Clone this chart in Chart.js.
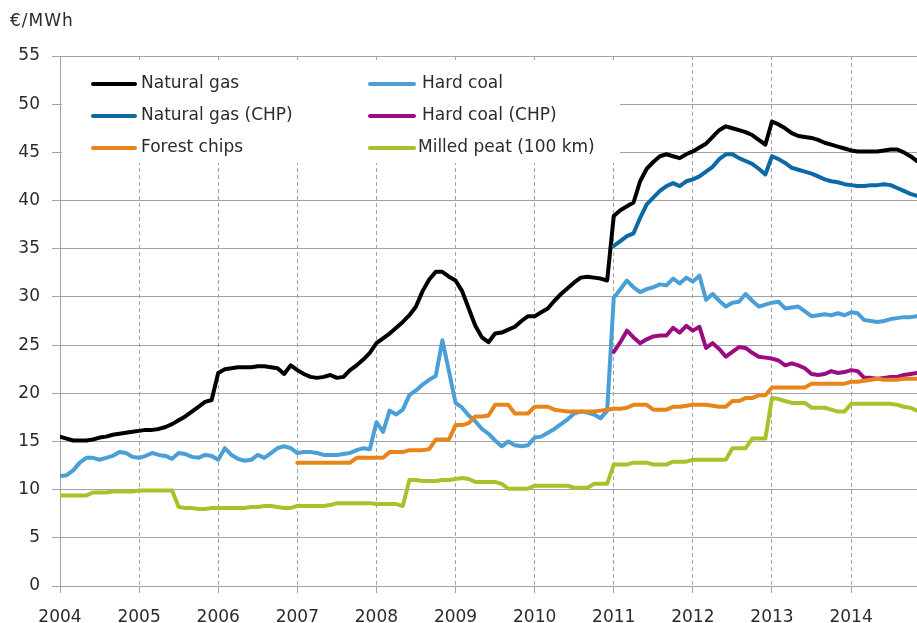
<!DOCTYPE html>
<html>
<head>
<meta charset="utf-8">
<script src="https://cdn.jsdelivr.net/npm/chart.js@4"></script>
<style>
html,body{margin:0;padding:0;background:#fff;}
canvas{display:block;}
</style>
</head>
<body>
<canvas id="c" width="917" height="623"></canvas>
<script>
// ---- Data (monthly, Jan 2004 = month index 0) ----
const yearLabels = ["2004","2005","2006","2007","2008","2009","2010","2011","2012","2013","2014"];
const unitLabel = "€/MWh";
const seriesNames = ["Natural gas","Hard coal","Natural gas (CHP)","Hard coal (CHP)","Forest chips","Milled peat (100 km)"];

const naturalGas = [
 15.5,15.3,15.1,15.1,15.1,15.2,15.4,15.5,15.7,15.8,15.9,16.0,
 16.1,16.2,16.2,16.3,16.5,16.8,17.2,17.6,18.1,18.6,19.1,19.3,
 22.1,22.5,22.6,22.7,22.7,22.7,22.8,22.8,22.7,22.6,22.0,22.9,
 22.4,22.0,21.7,21.6,21.7,21.9,21.6,21.7,22.4,22.9,23.5,24.2,
 25.2,25.7,26.2,26.8,27.4,28.1,29.0,30.6,31.8,32.6,32.6,32.1,
 31.7,30.6,28.8,27.0,25.8,25.3,26.2,26.3,26.6,26.9,27.5,28.0,
 28.0,28.4,28.8,29.6,30.3,30.9,31.5,32.0,32.1,32.0,31.9,31.7,
 38.4,39.0,39.4,39.8,42.0,43.3,44.0,44.6,44.8,44.6,44.4,44.8,
 45.1,45.5,45.9,46.6,47.3,47.7,47.5,47.3,47.1,46.8,46.3,45.8,
 48.2,47.9,47.5,47.0,46.7,46.6,46.5,46.3,46.0,45.8,45.6,45.4,
 45.2,45.1,45.1,45.1,45.1,45.2,45.3,45.3,45.0,44.6,44.1
];
const hardCoal = [
 11.4,11.5,12.0,12.8,13.3,13.3,13.1,13.3,13.5,13.9,13.8,13.4,
 13.3,13.5,13.8,13.6,13.5,13.2,13.8,13.7,13.4,13.3,13.6,13.5,
 13.1,14.3,13.6,13.2,13.0,13.1,13.6,13.3,13.8,14.3,14.5,14.3,
 13.8,13.9,13.9,13.8,13.6,13.6,13.6,13.7,13.8,14.1,14.3,14.2,
 17.0,16.0,18.2,17.8,18.3,19.8,20.3,20.9,21.4,21.8,25.5,22.3,
 19.0,18.5,17.7,17.1,16.3,15.8,15.1,14.5,15.0,14.6,14.5,14.6,
 15.4,15.5,15.9,16.3,16.8,17.3,17.9,18.1,18.0,17.8,17.4,18.2,
 29.9,30.8,31.7,31.0,30.5,30.8,31.0,31.3,31.2,31.9,31.4,32.0,
 31.6,32.2,29.7,30.3,29.6,29.0,29.4,29.5,30.3,29.6,29.0,29.2,
 29.4,29.5,28.8,28.9,29.0,28.5,28.0,28.1,28.2,28.1,28.3,28.1,
 28.4,28.3,27.6,27.5,27.4,27.5,27.7,27.8,27.9,27.9,28.0
];
const gasChpStart = 84; // Jan 2011
const naturalGasChp = [
 35.3,35.8,36.3,36.6,38.2,39.6,40.3,41.0,41.5,41.8,41.5,42.0,
 42.2,42.5,43.0,43.5,44.3,44.8,44.8,44.4,44.1,43.8,43.3,42.7,
 44.6,44.3,43.9,43.4,43.2,43.0,42.8,42.5,42.2,42.0,41.9,41.7,
 41.6,41.5,41.5,41.6,41.6,41.7,41.6,41.3,41.0,40.7,40.5
];
const coalChpStart = 84; // Jan 2011
const hardCoalChp = [
 24.3,25.3,26.5,25.8,25.2,25.6,25.9,26.0,26.0,26.8,26.3,27.0,
 26.5,26.9,24.7,25.2,24.6,23.8,24.3,24.8,24.7,24.2,23.8,23.7,
 23.6,23.4,22.9,23.1,22.9,22.6,22.0,21.9,22.0,22.3,22.1,22.2,
 22.4,22.3,21.6,21.6,21.5,21.6,21.7,21.7,21.9,22.0,22.1
];
const chipsStart = 36; // Jan 2007
const forestChips = [
 12.8,12.8,12.8,12.8,12.8,12.8,12.8,12.8,12.8,13.3,13.3,13.3,
 13.3,13.3,13.9,13.9,13.9,14.1,14.1,14.1,14.2,15.2,15.2,15.2,
 16.7,16.7,16.9,17.6,17.6,17.7,18.8,18.8,18.8,17.9,17.9,17.9,
 18.6,18.6,18.6,18.3,18.2,18.1,18.1,18.1,18.1,18.1,18.2,18.3,
 18.4,18.4,18.5,18.8,18.8,18.8,18.3,18.3,18.3,18.6,18.6,18.7,
 18.8,18.8,18.8,18.7,18.6,18.6,19.2,19.2,19.5,19.5,19.8,19.8,
 20.6,20.6,20.6,20.6,20.6,20.6,21.0,21.0,21.0,21.0,21.0,21.0,
 21.2,21.2,21.3,21.4,21.5,21.4,21.4,21.4,21.5,21.5,21.5
];
const milledPeat = [
 9.4,9.4,9.4,9.4,9.4,9.7,9.7,9.7,9.8,9.8,9.8,9.8,
 9.9,9.9,9.9,9.9,9.9,9.9,8.2,8.1,8.1,8.0,8.0,8.1,
 8.1,8.1,8.1,8.1,8.1,8.2,8.2,8.3,8.3,8.2,8.1,8.1,
 8.3,8.3,8.3,8.3,8.3,8.4,8.6,8.6,8.6,8.6,8.6,8.6,
 8.5,8.5,8.5,8.5,8.3,11.0,11.0,10.9,10.9,10.9,11.0,11.0,
 11.1,11.2,11.1,10.8,10.8,10.8,10.8,10.6,10.1,10.1,10.1,10.1,
 10.4,10.4,10.4,10.4,10.4,10.4,10.2,10.2,10.2,10.6,10.6,10.6,
 12.6,12.6,12.6,12.8,12.8,12.8,12.6,12.6,12.6,12.9,12.9,12.9,
 13.1,13.1,13.1,13.1,13.1,13.1,14.3,14.3,14.3,15.3,15.3,15.3,
 19.5,19.4,19.2,19.0,19.0,19.0,18.5,18.5,18.5,18.3,18.1,18.1,
 18.9,18.9,18.9,18.9,18.9,18.9,18.9,18.8,18.6,18.5,18.2
];
const yTicks = [0,5,10,15,20,25,30,35,40,45,50,55];

// ---- Build chart ----
const colors = ["#000000","#4a9fd6","#0d69a6","#9b0c82","#e8841a","#a6c32c"];
const seriesValues = [naturalGas, hardCoal, naturalGasChp, hardCoalChp, forestChips, milledPeat];
const seriesStarts = [0, 0, gasChpStart, coalChpStart, chipsStart, 0];
const drawOrder = [5, 4, 3, 2, 1, 0]; // later series on top

const toPoints = (vals, start) => vals.map((v, i) => ({x: start + i, y: v}));
const datasets = seriesNames.map((name, k) => ({
  label: name,
  data: toPoints(seriesValues[k], seriesStarts[k]),
  borderColor: colors[k],
  backgroundColor: colors[k],
  borderWidth: 4,
  pointRadius: 0,
  tension: 0,
  borderJoinStyle: 'round',
  borderCapStyle: 'round',
  order: drawOrder[k],
  fill: false
}));

const FONT = '"DejaVu Sans", sans-serif';
const TEXT = '#2b2b2b';
const GRID = '#a3a3a3';
Chart.defaults.font.family = FONT;
Chart.defaults.font.size = 17;
Chart.defaults.color = TEXT;

const overlay = {
  id: 'overlay',
  beforeDatasetsDraw(chart) {
    const ctx = chart.ctx;
    ctx.save();
    // legend box (covers gridlines)
    ctx.fillStyle = '#ffffff';
    ctx.fillRect(62, 62, 558, 101);
    const cols = [{lx1: 93, lx2: 135, tx: 141}, {lx1: 370, lx2: 414, tx: 422}];
    const rows = [84, 116, 148];
    ctx.font = '17px ' + FONT;
    ctx.textBaseline = 'middle';
    ctx.textAlign = 'left';
    chart.data.datasets.forEach((ds, k) => {
      const c = cols[k % 2];
      const y = rows[Math.floor(k / 2)];
      ctx.strokeStyle = ds.borderColor;
      ctx.lineWidth = 4;
      ctx.lineCap = 'round';
      ctx.beginPath();
      ctx.moveTo(c.lx1, y);
      ctx.lineTo(c.lx2, y);
      ctx.stroke();
      ctx.fillStyle = TEXT;
      ctx.fillText(ds.label, k === 5 ? c.tx - 4 : c.tx, y);
    });
    ctx.restore();
  },
  afterDraw(chart) {
    const ctx = chart.ctx;
    ctx.save();
    ctx.font = '17px ' + FONT;
    ctx.fillStyle = TEXT;
    ctx.textBaseline = 'middle';
    ctx.textAlign = 'left';
    if ('letterSpacing' in ctx) ctx.letterSpacing = '1px';
    ctx.fillText(unitLabel, 10, 22);
    ctx.restore();
  }
};

new Chart(document.getElementById('c'), {
  type: 'line',
  data: { datasets },
  options: {
    responsive: false,
    animation: false,
    layout: { padding: { top: 56, right: 0, left: 0, bottom: 0 } },
    plugins: { legend: { display: false }, tooltip: { enabled: false } },
    scales: {
      x: {
        type: 'linear',
        min: 0,
        max: 130,
        afterBuildTicks: (s) => { s.ticks = yearLabels.map((_, i) => ({ value: i * 12 })); },
        afterFit: (s) => { s.height = 37; },
        ticks: {
          autoSkip: false,
          maxRotation: 0,
          padding: 14,
          color: TEXT,
          callback: (v) => yearLabels[Math.round(v / 12)]
        },
        grid: {
          color: GRID,
          lineWidth: 1,
          tickLength: 7,
          tickColor: GRID,
          tickBorderDash: []
        },
        border: { display: true, color: GRID, width: 1, dash: [4, 3] }
      },
      y: {
        type: 'linear',
        min: 0,
        max: 55,
        afterBuildTicks: (s) => { s.ticks = yTicks.map(v => ({ value: v })); },
        afterFit: (s) => { s.width = 60; },
        ticks: { padding: 12, color: TEXT },
        grid: { color: GRID, lineWidth: 1, tickLength: 8, tickColor: GRID },
        border: { display: true, color: GRID, width: 1 }
      }
    }
  },
  plugins: [overlay]
});
</script>
</body>
</html>
